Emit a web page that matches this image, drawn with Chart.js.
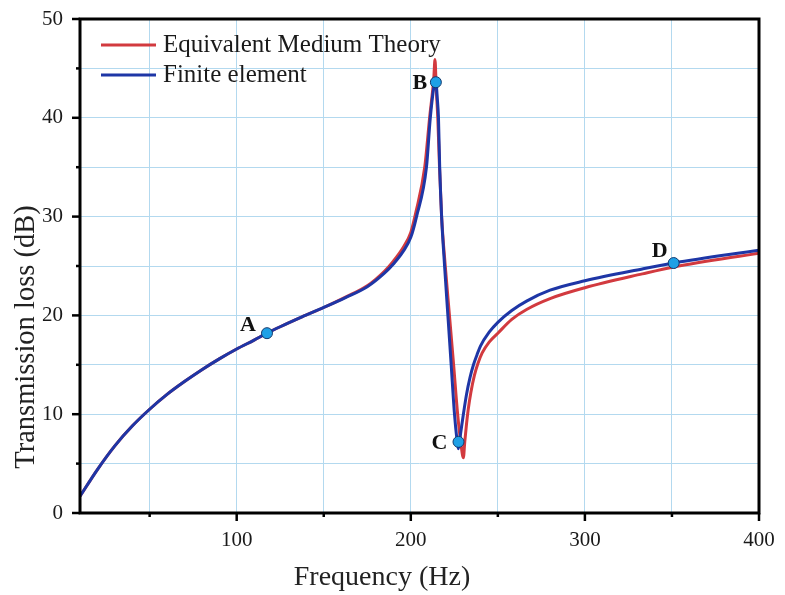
<!DOCTYPE html>
<html><head><meta charset="utf-8">
<script src="https://cdn.jsdelivr.net/npm/chart.js@4.4.1/dist/chart.umd.min.js"></script>
<style>html,body{margin:0;padding:0;background:#fff}#wrap{width:785px;height:595px}</style>
</head><body><div id="wrap"><canvas id="c" width="785" height="595"></canvas></div>
<script>
// ---- data ----
const emtFreq = [10,20,30,40,50,60,70,80,90,100,110,117.4,125,137.5,150,162.5,175,185,190,195.7,200,203,208,210.8,213.2,213.9,214.6,215.5,216.5,217.7,219.8,222.2,224.6,226.9,228.8,230.2,231,232,233,234.5,236.5,238.5,241,245,250,258,266.5,280,300,333,351,400];
const emtTL   = [1.7,4.4,6.8,8.8,10.5,12.0,13.3,14.5,15.6,16.6,17.5,18.2,18.85,19.85,20.8,21.85,23.0,24.5,25.5,26.9,28.4,30.5,35,40,44,45.9,43,40,35,30,25,20,15,10,7,5.6,7.2,9.0,10.5,12.2,13.9,15.1,16.2,17.3,18.2,19.6,20.6,21.7,22.8,24.2,24.9,26.3];
const feFreq  = [10,20,30,40,50,60,70,80,90,100,110,117.4,125,137.5,150,162.5,175,185,190,195.7,200,203.3,209,211.2,213.5,214.3,215.2,215.9,216.6,217.7,219.4,221.3,223.2,225.1,226.4,227.3,228.4,230.2,232,234,236,238,240,245,250,258,266.5,280,300,333,351,400];
const feTL    = [1.7,4.4,6.8,8.8,10.5,12.0,13.3,14.5,15.6,16.6,17.5,18.2,18.85,19.85,20.8,21.8,22.9,24.3,25.2,26.5,27.9,30,35,40,43.4,43.9,42,40,35,30,25,20,15,10,7.6,6.5,7.8,10,12,13.7,15,16,16.9,18.3,19.3,20.5,21.45,22.55,23.5,24.7,25.3,26.6];
const markerLabels = ['A','B','C','D'];
const markerFreq   = [117.4,214.4,227.4,351];
const markerTL     = [18.2,43.6,7.2,25.3];
const xTickValues = [50,100,150,200,250,300,350,400];
const xTickLabels = ['','100','','200','','300','','400'];
const yTickValues = [0,5,10,15,20,25,30,35,40,45,50];
const yTickLabels = ['0','','10','','20','','30','','40','','50'];
const seriesNames = ['Equivalent Medium Theory','Finite element'];
const xTitle = 'Frequency (Hz)';
const yTitle = 'Transmission loss (dB)';

const RED = '#d23a3f', BLUE = '#1e36a6', GRID = '#b3d9ef';
const SERIF = '"Liberation Serif","DejaVu Serif",serif';

const pts = (xs, ys) => xs.map((x,i)=>({x, y: ys[i]}));

const frame = {
  id:'frame',
  afterDatasetsDraw(ch){
    const {ctx, chartArea:a, scales:{x,y}} = ch;
    ctx.save();
    ctx.strokeStyle='#000'; ctx.lineWidth=3; ctx.lineCap='square';
    ctx.beginPath();
    ctx.moveTo(a.left,a.top); ctx.lineTo(a.right,a.top); ctx.lineTo(a.right,a.bottom);
    ctx.lineTo(a.left,a.bottom); ctx.closePath(); ctx.stroke();
    ctx.lineWidth=2.5; ctx.lineCap='butt';
    yTickValues.forEach((v,i)=>{
      const p = y.getPixelForValue(v); const L = yTickLabels[i] ? 8 : 4;
      ctx.beginPath(); ctx.moveTo(a.left-L,p); ctx.lineTo(a.left,p); ctx.stroke();
    });
    xTickValues.forEach((v,i)=>{
      const p = x.getPixelForValue(v); const L = xTickLabels[i] ? 8 : 4;
      ctx.beginPath(); ctx.moveTo(p,a.bottom); ctx.lineTo(p,a.bottom+L); ctx.stroke();
    });
    ctx.restore();
  },
  afterDraw(ch){
    const {ctx, chartArea:a} = ch;
    ctx.save();
    // marker labels
    const meta = ch.getDatasetMeta(0);
    const offs = [[-19,-8],[-16,1],[-19,1],[-14,-12]];
    ctx.font = 'bold 22px '+SERIF; ctx.fillStyle='#111'; ctx.textAlign='center'; ctx.textBaseline='middle';
    meta.data.forEach((el,i)=>{ ctx.fillText(markerLabels[i], el.x+offs[i][0], el.y+offs[i][1]); });
    // legend
    const cols=[RED,BLUE];
    ctx.font = '25px '+SERIF; ctx.textAlign='left'; ctx.fillStyle='#1a1a1a';
    seriesNames.forEach((n,i)=>{
      const yy = a.top + 26 + i*30;
      ctx.strokeStyle=cols[i]; ctx.lineWidth=3;
      ctx.beginPath(); ctx.moveTo(a.left+21,yy); ctx.lineTo(a.left+76,yy); ctx.stroke();
      ctx.fillText(n, a.left+83, yy);
    });
    // axis titles
    ctx.font = '28px '+SERIF; ctx.fillStyle='#222'; ctx.textAlign='center';
    ctx.fillText(xTitle, 382, 578);
    ctx.translate(27, 337); ctx.rotate(-Math.PI/2);
    ctx.font = '28.5px '+SERIF;
    ctx.fillText(yTitle, 0, 0);
    ctx.restore();
  }
};

new Chart(document.getElementById('c'), {
  type:'line',
  data:{ datasets:[
    { label:'points', data: pts(markerFreq, markerTL), showLine:false, pointRadius:5.5,
      pointBackgroundColor:'#1ea0e6', pointBorderColor:'#123a6e', pointBorderWidth:1, order:0 },
    { label: seriesNames[1], data: pts(feFreq, feTL), borderColor:BLUE, borderWidth:3,
      pointRadius:0, cubicInterpolationMode:'monotone', fill:false, order:1 },
    { label: seriesNames[0], data: pts(emtFreq, emtTL), borderColor:RED, borderWidth:3,
      pointRadius:0, cubicInterpolationMode:'monotone', fill:false, order:2 }
  ]},
  options:{
    responsive:false, animation:false, devicePixelRatio:1,
    layout:{ padding:{ top:19, right:26, left:0, bottom:0 } },
    plugins:{ legend:{display:false}, tooltip:{enabled:false} },
    scales:{
      x:{ type:'linear', min:10, max:400,
        afterBuildTicks(s){ s.ticks = xTickValues.map(v=>({value:v})); },
        afterFit(s){ s.height = 82; s.paddingLeft = 0; s.paddingRight = 0; },
        grid:{ color:GRID, lineWidth:1, drawTicks:false },
        border:{ display:false },
        ticks:{ padding:15, color:'#1a1a1a', font:{ family:SERIF, size:21 },
          callback(v){ const i = xTickValues.indexOf(v); return i>=0 ? xTickLabels[i] : ''; } }
      },
      y:{ type:'linear', min:0, max:50,
        afterBuildTicks(s){ s.ticks = yTickValues.map(v=>({value:v})); },
        afterFit(s){ s.width = 80; s.paddingTop = 0; s.paddingBottom = 0; },
        grid:{ color:GRID, lineWidth:1, drawTicks:false },
        border:{ display:false },
        ticks:{ padding:17, color:'#1a1a1a', font:{ family:SERIF, size:21 },
          callback(v){ const i = yTickValues.indexOf(v); return i>=0 ? yTickLabels[i] : ''; } }
      }
    }
  },
  plugins:[frame]
});
</script></body></html>
